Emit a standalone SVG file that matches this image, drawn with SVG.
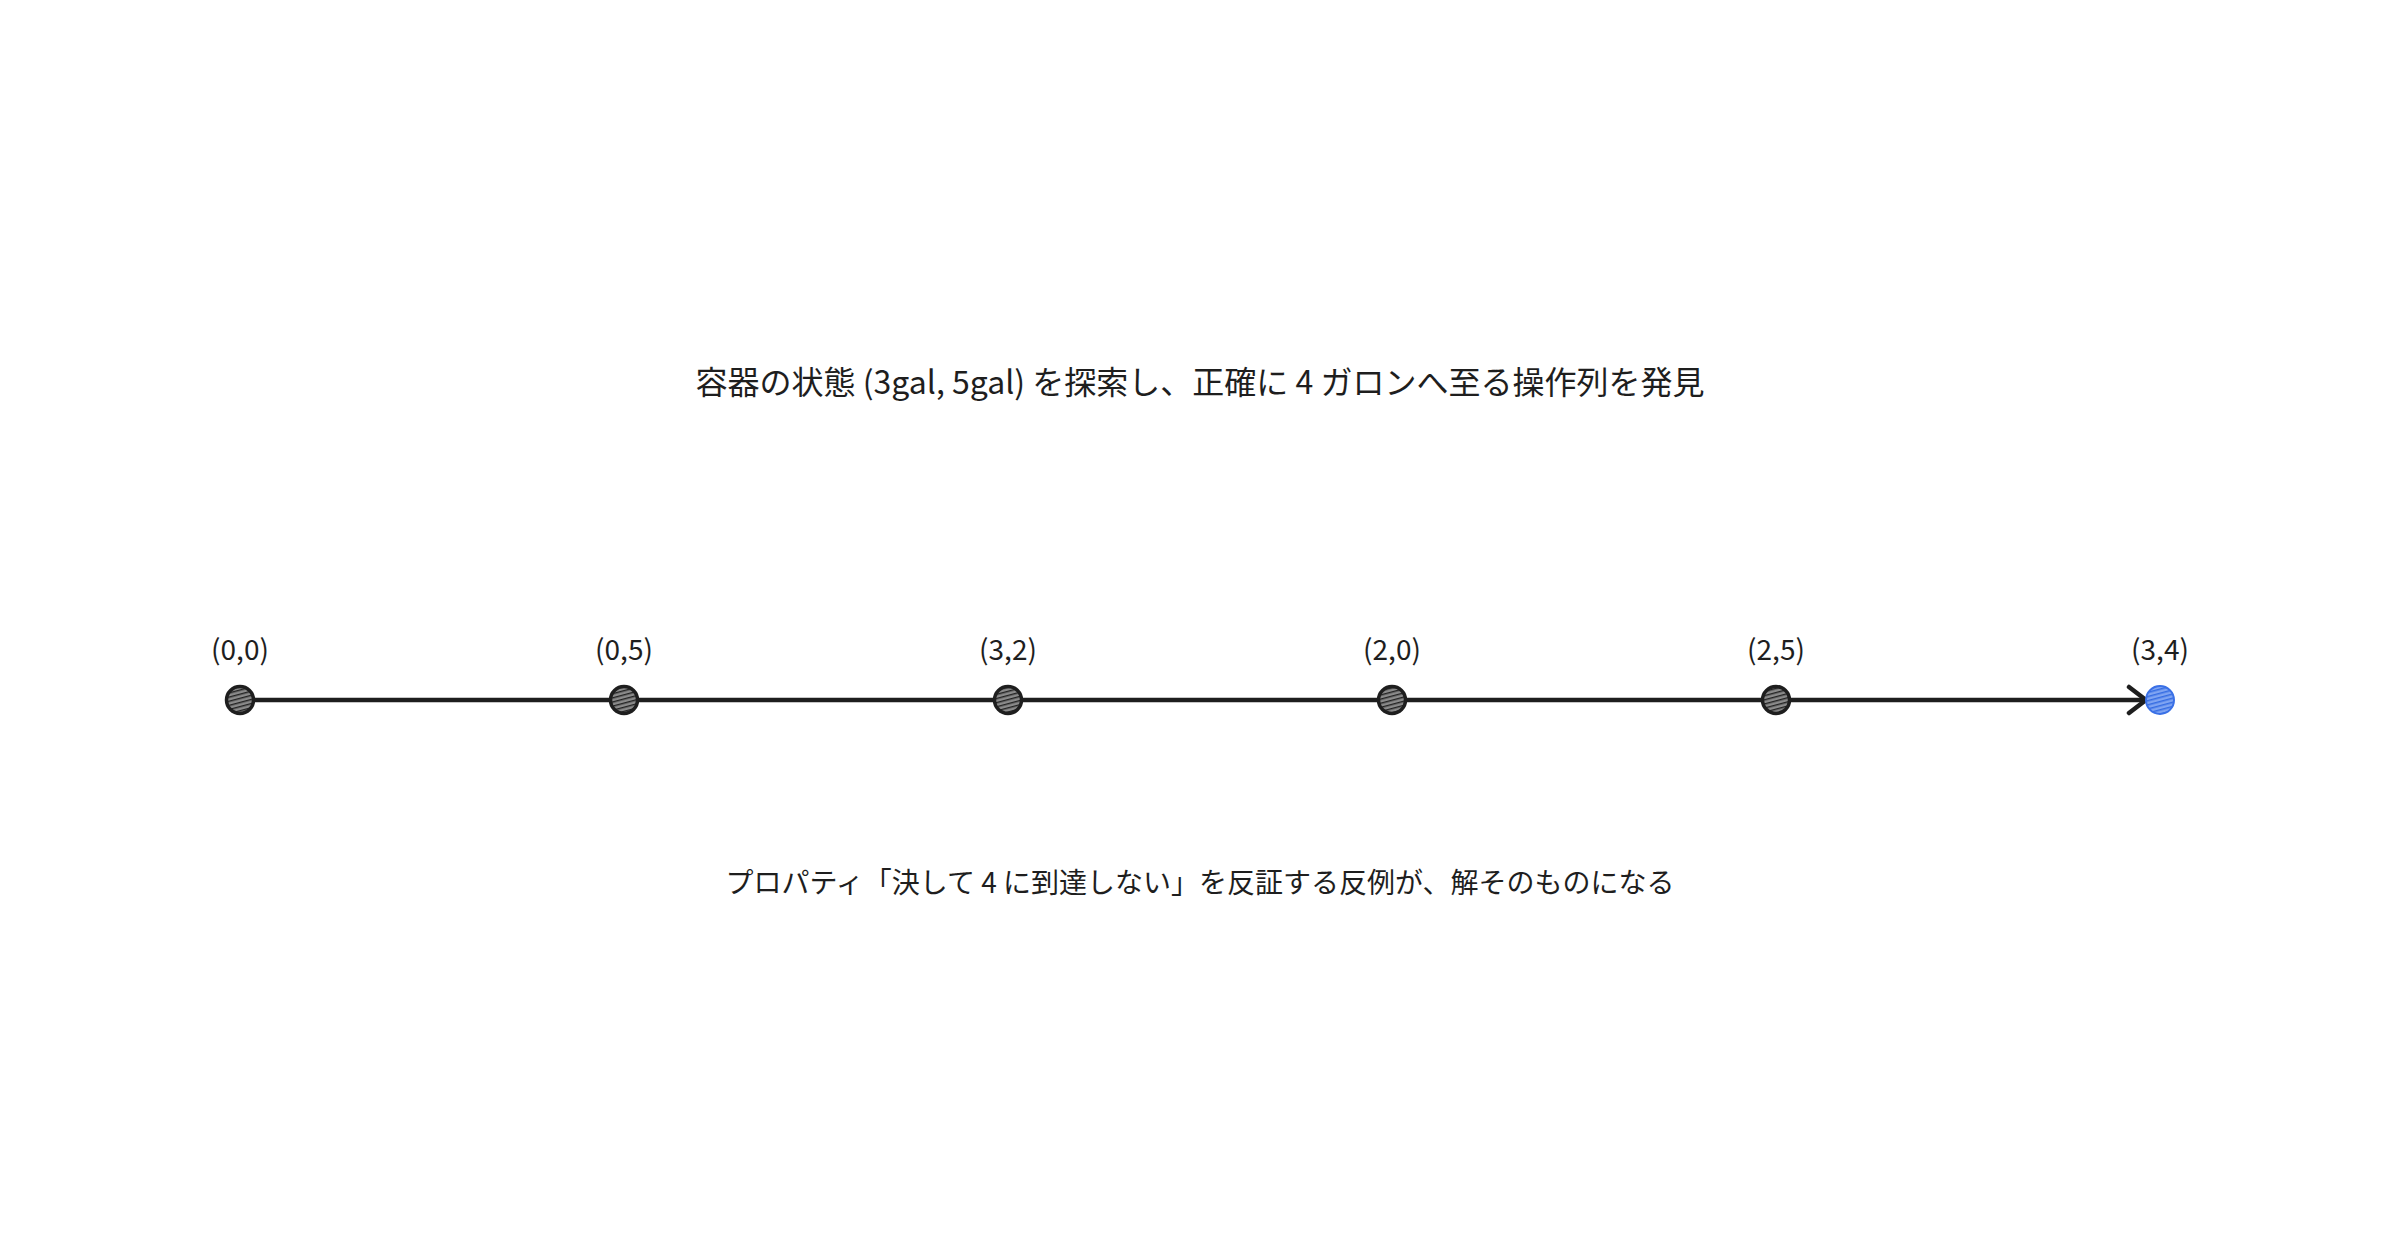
<svg xmlns="http://www.w3.org/2000/svg" width="2400" height="1260" viewBox="0 0 2400 1260">
<style>
.lbl{font-family:"Noto Sans CJK JP","Noto Sans",sans-serif;font-size:28px;fill:#1e1e1e;text-anchor:middle}
.txt{font-family:"Noto Sans CJK JP","Noto Sans",sans-serif;fill:#1e1e1e;text-anchor:middle}
.edge{stroke:#1e1e1e;stroke-width:4.5;fill:none;stroke-linecap:round}
.node{stroke:#1e1e1e;stroke-width:3.5}
</style>
<defs>
<pattern id="hatch" width="4" height="4" patternUnits="userSpaceOnUse" patternTransform="rotate(75)">
<rect width="4" height="4" fill="#8a8a8a"/>
<line x1="0" y1="0" x2="0" y2="4" stroke="#222222" stroke-width="2.8"/>
</pattern>
<pattern id="hatchb" width="4" height="4" patternUnits="userSpaceOnUse" patternTransform="rotate(75)">
<rect width="4" height="4" fill="#7fa4f2"/>
<line x1="0" y1="0" x2="0" y2="4" stroke="#356ce2" stroke-width="3"/>
</pattern>
<marker id="arrow" markerWidth="28" markerHeight="32" refX="22" refY="16" orient="auto" markerUnits="userSpaceOnUse">
<path d="M5 3 L22 16 L5 29" fill="none" stroke="#1e1e1e" stroke-width="4.5" stroke-linecap="round" stroke-linejoin="round"/>
</marker>
</defs>
<rect width="2400" height="1260" fill="#ffffff"/>
<text class="txt" x="1200" y="394" font-size="32">容器の状態 (3gal, 5gal) を探索し、正確に 4 ガロンへ至る操作列を発見</text>
<text class="txt" x="1200" y="893" font-size="28">プロパティ「決して 4 に到達しない」を反証する反例が、解そのものになる</text>
<g id="connectors">
<line class="edge" x1="240" y1="700" x2="624" y2="700"/>
<line class="edge" x1="624" y1="700" x2="1008" y2="700"/>
<line class="edge" x1="1008" y1="700" x2="1392" y2="700"/>
<line class="edge" x1="1392" y1="700" x2="1776" y2="700"/>
<line class="edge" x1="1776" y1="700" x2="2146" y2="700" marker-end="url(#arrow)"/>
</g>
<g id="n00"><circle class="node" cx="240" cy="700" r="13.5" fill="url(#hatch)"/><text class="lbl" x="240" y="660">(0,0)</text></g>
<g id="n05"><circle class="node" cx="624" cy="700" r="13.5" fill="url(#hatch)"/><text class="lbl" x="624" y="660">(0,5)</text></g>
<g id="n32"><circle class="node" cx="1008" cy="700" r="13.5" fill="url(#hatch)"/><text class="lbl" x="1008" y="660">(3,2)</text></g>
<g id="n20"><circle class="node" cx="1392" cy="700" r="13.5" fill="url(#hatch)"/><text class="lbl" x="1392" y="660">(2,0)</text></g>
<g id="n25"><circle class="node" cx="1776" cy="700" r="13.5" fill="url(#hatch)"/><text class="lbl" x="1776" y="660">(2,5)</text></g>
<g id="n34"><circle cx="2160" cy="700" r="14" fill="url(#hatchb)" stroke="#3a70e6" stroke-width="2"/><text class="lbl" x="2160" y="660">(3,4)</text></g>
</svg>
